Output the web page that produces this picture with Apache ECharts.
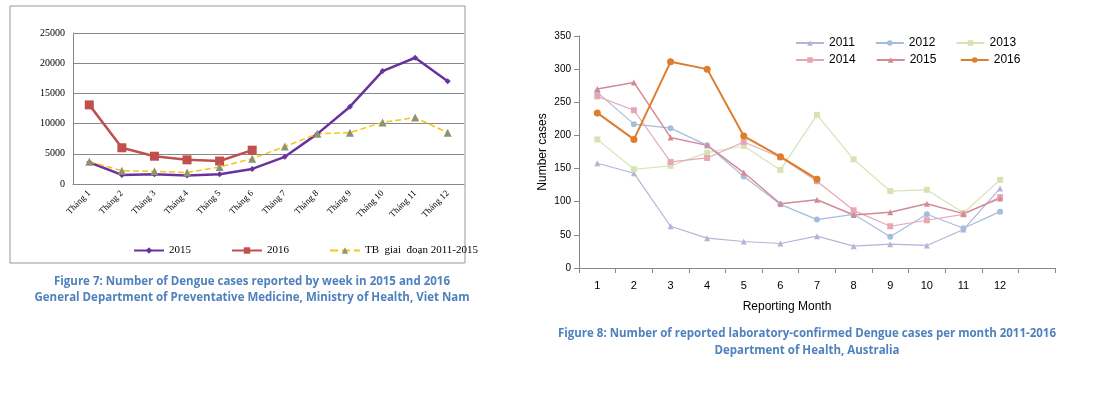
<!DOCTYPE html>
<html>
<head>
<meta charset="utf-8">
<script src="https://cdn.jsdelivr.net/npm/echarts@6/dist/echarts.min.js"></script>
<style>html,body{margin:0;padding:0;background:#fff}#main{width:1095px;height:403px}</style>
</head>
<body>
<div id="main"></div>
<script>
// Viet Nam chart
var vnMonths = ['Tháng 1','Tháng 2','Tháng 3','Tháng 4','Tháng 5','Tháng 6','Tháng 7','Tháng 8','Tháng 9','Tháng 10','Tháng 11','Tháng 12'];
var vn2015 = [3600,1500,1600,1400,1600,2500,4500,8300,12800,18700,20900,17000];
var vn2016 = [13100,6000,4600,4000,3800,5600];
var vnAvg = [3700,2200,2100,1900,2800,4200,6200,8300,8500,10200,11000,8500];

// Australia chart
var auMonths = ['1','2','3','4','5','6','7','8','9','10','11','12',''];
var au2011 = [158,143,63,45,40,37,48,33,36,34,58,120];
var au2012 = [265,217,211,185,138,96,73,81,47,81,60,85];
var au2013 = [194,149,154,174,184,148,231,164,116,118,83,133];
var au2014 = [259,238,160,166,190,167,131,87,63,72,81,107];
var au2015 = [270,280,197,185,144,97,103,80,84,97,82,105];
var au2016 = [234,194,311,300,199,168,134];

var serif = 'Liberation Serif';
var sans = 'Liberation Sans';
var capColor = '#4f81bd';
var capFont = 'bold 11.5px "Open Sans"';

function auLine(name, data, color, symbol, size, width) {
    return {
        name: name, type: 'line', xAxisIndex: 1, yAxisIndex: 1, data: data,
        symbol: symbol, symbolSize: size, lineStyle: {color: color, width: width},
        itemStyle: {color: color}, z: name === '2016 ' ? 5 : 2
    };
}

function auLegend(top, names) {
    return {left: 790, top: top, itemGap: 20, itemWidth: 28, itemHeight: 7,
            textStyle: {fontFamily: sans, fontSize: 12, color: '#000', width: 34},
            data: names};
}

var option = {
    animation: false,
    graphic: [
        {type: 'rect', shape: {x: 10, y: 6, width: 455, height: 257}, style: {fill: 'none', stroke: '#999', lineWidth: 1}},
        {type: 'text', x: 252, y: 282, style: {text: 'Figure 7: Number of Dengue cases reported by week in 2015 and 2016', fill: capColor, font: capFont, align: 'center', verticalAlign: 'middle'}},
        {type: 'text', x: 252, y: 298, style: {text: 'General Department of Preventative Medicine, Ministry of Health, Viet Nam', fill: capColor, font: capFont, align: 'center', verticalAlign: 'middle'}},
        {type: 'text', x: 807, y: 334, style: {text: 'Figure 8: Number of reported laboratory-confirmed Dengue cases per month 2011-2016', fill: capColor, font: capFont, align: 'center', verticalAlign: 'middle'}},
        {type: 'text', x: 807, y: 351, style: {text: 'Department of Health, Australia', fill: capColor, font: capFont, align: 'center', verticalAlign: 'middle'}}
    ],
    legend: [
        {left: 128, top: 240, itemGap: 40, itemWidth: 30, itemHeight: 8,
         textStyle: {fontFamily: serif, fontSize: 11, color: '#000'},
         data: ['2015', '2016', 'TB  giai  đoạn 2011-2015']},
        auLegend(32, ['2011', '2012', '2013']),
        auLegend(49, ['2014', '2015 ', '2016 '])
    ],
    grid: [
        {left: 73, top: 33, width: 391, height: 151},
        {left: 579, top: 36, width: 476, height: 232}
    ],
    xAxis: [
        {type: 'category', gridIndex: 0, data: vnMonths, boundaryGap: true,
         axisLine: {lineStyle: {color: '#888'}}, axisTick: {show: false},
         axisLabel: {rotate: 45, interval: 0, fontFamily: serif, fontSize: 9, color: '#000'},
         splitLine: {show: false}},
        {type: 'category', gridIndex: 1, data: auMonths, boundaryGap: true,
         axisLine: {lineStyle: {color: '#888'}}, axisTick: {show: true, interval: 0, lineStyle: {color: '#888'}},
         axisLabel: {interval: 0, fontFamily: sans, fontSize: 11, color: '#000', margin: 12},
         name: 'Reporting Month', nameLocation: 'middle', nameGap: 33,
         nameTextStyle: {fontFamily: sans, fontSize: 12, color: '#000', padding: [0, 60, 0, 0]}}
    ],
    yAxis: [
        {type: 'value', gridIndex: 0, min: 0, max: 25000, interval: 5000,
         axisLine: {show: true, lineStyle: {color: '#888'}},
         axisLabel: {fontFamily: serif, fontSize: 10, color: '#000', formatter: function (v) { return String(v); }},
         splitLine: {lineStyle: {color: '#888'}}},
        {type: 'value', gridIndex: 1, min: 0, max: 350, interval: 50,
         axisLine: {show: true, lineStyle: {color: '#888'}}, axisTick: {show: true},
         axisLabel: {fontFamily: sans, fontSize: 10, color: '#000'},
         splitLine: {show: false},
         name: 'Number cases', nameLocation: 'middle', nameGap: 30,
         nameTextStyle: {fontFamily: sans, fontSize: 12, color: '#000'}}
    ],
    series: [
        {name: '2015', type: 'line', data: vn2015, symbol: 'diamond', symbolSize: 6,
         lineStyle: {color: '#6a329f', width: 2.5}, itemStyle: {color: '#6a329f'}},
        {name: '2016', type: 'line', data: vn2016, symbol: 'rect', symbolSize: 9,
         lineStyle: {color: '#c0504d', width: 2.5}, itemStyle: {color: '#c0504d'}},
        {name: 'TB  giai  đoạn 2011-2015', type: 'line', data: vnAvg, symbol: 'triangle', symbolSize: 8,
         lineStyle: {color: '#f5c518', width: 1.5, type: 'dashed'}, itemStyle: {color: '#8c9470'}},
        auLine('2011', au2011, '#b4b4d8', 'triangle', 6, 1.2),
        auLine('2012', au2012, '#a6bcdc', 'circle', 6, 1.2),
        auLine('2013', au2013, '#d6e4b4', 'rect', 6, 1.2),
        auLine('2014', au2014, '#e6a8b4', 'rect', 6, 1.2),
        auLine('2015 ', au2015, '#d48a96', 'triangle', 6, 1.5),
        auLine('2016 ', au2016, '#dd7d2e', 'circle', 7, 2)
    ]
};

var myChart = echarts.init(document.getElementById('main'));
myChart.setOption(option);
</script>
</body>
</html>
